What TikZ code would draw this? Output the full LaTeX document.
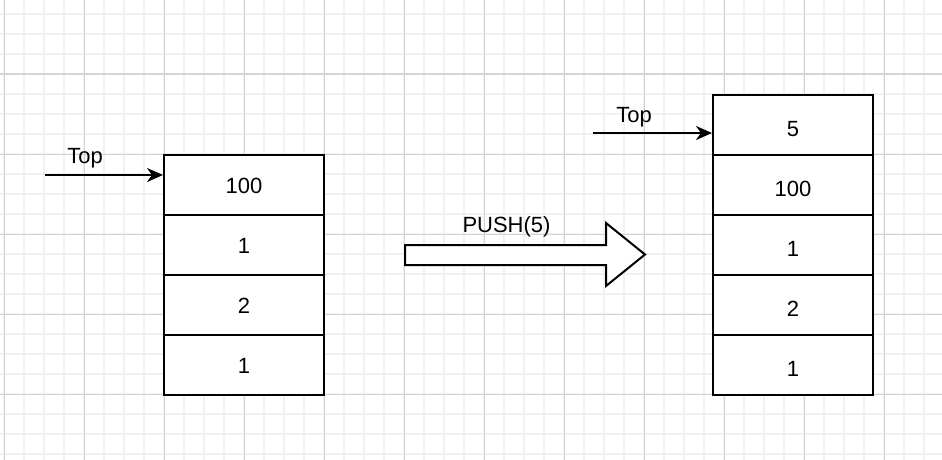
\documentclass[tikz,border=0pt]{standalone}
\usepackage{fontspec}
\setmainfont{Liberation Sans}
\usetikzlibrary{arrows.meta}
\definecolor{gridminor}{HTML}{F1F1F1}
\definecolor{gridmajor}{HTML}{D4D4D4}
\tikzset{
  cell/.style={draw=black, line width=2pt, minimum width=160pt, minimum height=60pt, inner sep=0pt, font=\fontsize{22}{26}\selectfont, fill=white, text height=16pt, text depth=0pt},
  rcell/.style={cell, text height=22pt},
  lbl/.style={inner sep=0pt, anchor=base, font=\fontsize{22}{26}\selectfont},
  ptr/.style={line width=2pt, -{Stealth[length=16pt,width=14pt,inset=5pt]}},
}
\begin{document}
\begin{tikzpicture}[x=1pt,y=-1pt]
\useasboundingbox (0,0) rectangle (942,460);
\fill[white] (0,0) rectangle (942,460);
% grid
\foreach \x in {4,24,...,944} {\draw[gridminor, line width=1.2pt] (\x,0) -- (\x,460);}
\foreach \y in {14,34,...,460} {\draw[gridminor, line width=1.2pt] (0,\y) -- (942,\y);}
\foreach \x in {4,84,...,944} {\draw[gridmajor, line width=1pt] (\x,0) -- (\x,460);}
\foreach \y in {-6,74,...,460} {\draw[gridmajor, line width=1pt] (0,\y) -- (942,\y);}
% left stack
\node[cell] (l1) at (244,185) {100};
\node[cell] (l2) at (244,245) {1};
\node[cell] (l3) at (244,305) {2};
\node[cell] (l4) at (244,365) {1};
% right stack
\node[rcell] (r0) at (793,125) {5};
\node[rcell] (r1) at (793,185) {100};
\node[rcell] (r2) at (793,245) {1};
\node[rcell] (r3) at (793,305) {2};
\node[rcell] (r4) at (793,365) {1};
% top pointers
\node[lbl] (ltop) at (85,163) {Top};
\coordinate (lstart) at (45,175);
\draw[ptr] (lstart) -- (lstart -| l1.west);
\node[lbl] (rtop) at (634,122) {Top};
\coordinate (rstart) at (593,133);
\draw[ptr] (rstart) -- (rstart -| r0.west);
% push arrow
\draw[line width=2pt, fill=white, line join=miter] (405,245) -- (606,245) -- (606,223) -- (645,254.5) -- (606,286) -- (606,265) -- (405,265) -- cycle;
\node[lbl] (push) at (506.5,232) {PUSH(5)};
\end{tikzpicture}
\end{document}
